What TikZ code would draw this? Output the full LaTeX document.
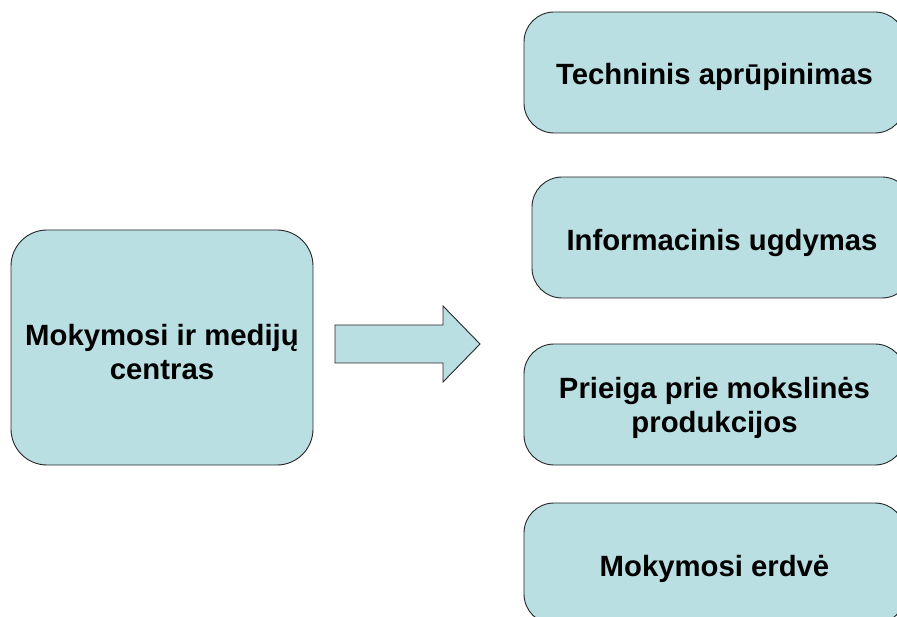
\documentclass[tikz,border=0pt]{standalone}
\usepackage{fontspec}
\setmainfont{Liberation Sans}
\begin{document}
\begin{tikzpicture}[x=1pt,y=-1pt,
  box/.style={draw=black!85, line width=0.9pt, fill=boxfill, rounded corners=30pt, inner sep=0pt},
  txt/.style={font=\fontsize{29.3}{34}\selectfont\bfseries, align=center, inner sep=0pt},
  arrowshape/.style={draw=black!85, line width=0.9pt, fill=boxfill}]
\definecolor{boxfill}{RGB}{186,223,227}
\useasboundingbox (0,0) rectangle (897,617);
\clip (0,0) rectangle (897,617);
\node[box, minimum width=302pt, minimum height=235pt, rounded corners=36pt] (main) at (162,347.5) {};
\node[box, minimum width=381pt, minimum height=121pt] (tech) at (714.5,72.5) {};
\node[box, minimum width=380pt, minimum height=121pt] (info) at (722,237.5) {};
\node[box, minimum width=381pt, minimum height=121pt] (prie) at (714.5,404.5) {};
\node[box, minimum width=381pt, minimum height=121pt] (erd) at (714.5,563.5) {};
\node[txt] (maint) at ([yshift=-5pt]main.center) {Mokymosi ir medijų\\centras};
\node[txt] (techt) at ([yshift=-4pt]tech.center) {Techninis aprūpinimas};
\node[txt] (infot) at ([yshift=-5pt]info.center) {Informacinis ugdymas};
\node[txt] (priet) at ([yshift=-3.5pt]prie.center) {Prieiga prie mokslinės\\produkcijos};
\node[txt] (erdt) at ([yshift=-5pt]erd.center) {Mokymosi erdvė};
\coordinate (a1) at (335,325);
\coordinate (a2) at (443,325);
\coordinate (a3) at (443,306);
\coordinate (tip) at (480,344);
\coordinate (a5) at (443,382);
\coordinate (a6) at (443,363);
\coordinate (a7) at (335,363);
\draw[arrowshape] (a1) -- (a2) -- (a3) -- (tip) -- (a5) -- (a6) -- (a7) -- cycle;
\end{tikzpicture}
\end{document}
